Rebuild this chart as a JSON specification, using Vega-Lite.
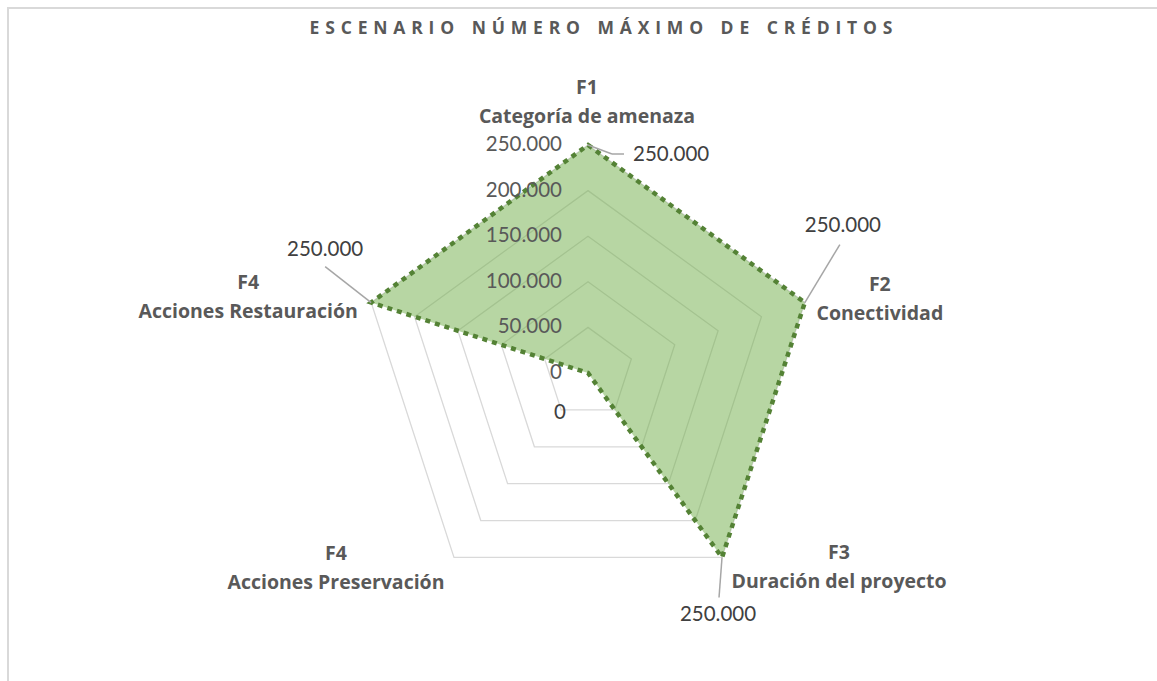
{
  "$schema": "https://vega.github.io/schema/vega-lite/v6.json",
  "width": 1151,
  "height": 675,
  "autosize": {"type": "none"},
  "padding": {"left": 8, "top": 8, "right": -2, "bottom": -2},
  "background": "white",
  "title": {
    "text": "E\u2004S\u2004C\u2004E\u2004N\u2004A\u2004R\u2004I\u2004O\u2004\u2004\u2004N\u2004Ú\u2004M\u2004E\u2004R\u2004O\u2004\u2004\u2004M\u2004Á\u2004X\u2004I\u2004M\u2004O\u2004\u2004\u2004D\u2004E\u2004\u2004\u2004C\u2004R\u2004É\u2004D\u2004I\u2004T\u2004O\u2004S",
    "font": "Open Sans",
    "fontSize": 17.5,
    "fontWeight": "bold",
    "color": "#595959",
    "anchor": "middle",
    "frame": "group",
    "baseline": "alphabetic",
    "offset": -43,
    "dx": 17.5
  },
  "config": {
    "view": {"stroke": "#d9d9d9", "strokeWidth": 2},
    "font": "Lato",
    "locale": {"number": {"decimal": ",", "thousands": ".", "grouping": [3], "currency": ["", " €"]}}
  },
  "datasets": {
    "factors": [
      {"idx": 0, "code": "F1", "name": "Categoría de amenaza", "value": 250000},
      {"idx": 1, "code": "F2", "name": "Conectividad", "value": 250000},
      {"idx": 2, "code": "F3", "name": "Duración del proyecto", "value": 250000},
      {"idx": 3, "code": "F4", "name": "Acciones Preservación", "value": 0},
      {"idx": 4, "code": "F4", "name": "Acciones Restauración", "value": 250000}
    ],
    "rings": [
      {"level": 0, "vertex": [0, 1, 2, 3, 4]},
      {"level": 50000, "vertex": [0, 1, 2, 3, 4]},
      {"level": 100000, "vertex": [0, 1, 2, 3, 4]},
      {"level": 150000, "vertex": [0, 1, 2, 3, 4]},
      {"level": 200000, "vertex": [0, 1, 2, 3, 4]},
      {"level": 250000, "vertex": [0, 1, 2, 3, 4]}
    ]
  },
  "layer": [
    {
      "data": {"name": "rings"},
      "transform": [
        {"flatten": ["vertex"]},
        {"filter": "datum.level > 0"},
        {"calculate": "datum.level*sin(2*PI*datum.vertex/5)", "as": "gx"},
        {"calculate": "datum.level*cos(2*PI*datum.vertex/5)", "as": "gy"}
      ],
      "mark": {"type": "line", "interpolate": "linear-closed", "stroke": "#d9d9d9", "strokeWidth": 1.3},
      "encoding": {
        "x": {"field": "gx", "type": "quantitative", "scale": {"domain": [-635965, 626096], "nice": false, "zero": false}, "axis": null},
        "y": {"field": "gy", "type": "quantitative", "scale": {"domain": [-339912, 400219], "nice": false, "zero": false}, "axis": null},
        "detail": {"field": "level", "type": "nominal"},
        "order": {"field": "vertex", "type": "quantitative"}
      }
    },
    {
      "data": {"name": "factors"},
      "transform": [
        {"calculate": "datum.value*sin(2*PI*datum.idx/5)", "as": "px"},
        {"calculate": "datum.value*cos(2*PI*datum.idx/5)", "as": "py"}
      ],
      "mark": {"type": "line", "interpolate": "linear-closed", "fill": "#70ad47", "fillOpacity": 0.5, "stroke": "#548235", "strokeWidth": 4.5, "strokeDash": [5, 5]},
      "encoding": {
        "x": {"field": "px", "type": "quantitative", "scale": {"domain": [-635965, 626096], "nice": false, "zero": false}, "axis": null},
        "y": {"field": "py", "type": "quantitative", "scale": {"domain": [-339912, 400219], "nice": false, "zero": false}, "axis": null},
        "order": {"field": "idx", "type": "quantitative"}
      }
    },
    {
      "data": {"name": "rings"},
      "mark": {"type": "text", "align": "right", "baseline": "middle", "dx": -26, "fontSize": 20.5, "color": "#595959"},
      "encoding": {
        "x": {"datum": 0, "type": "quantitative", "scale": {"domain": [-635965, 626096], "nice": false, "zero": false}, "axis": null},
        "y": {"field": "level", "type": "quantitative", "scale": {"domain": [-339912, 400219], "nice": false, "zero": false}, "axis": null},
        "text": {"field": "level", "type": "quantitative", "format": ",.0f"}
      }
    },
    {
      "data": {"name": "factors"},
      "transform": [
        {"calculate": "datum.value*sin(2*PI*datum.idx/5)", "as": "px"},
        {"calculate": "datum.value*cos(2*PI*datum.idx/5)", "as": "py"},
        {"calculate": "250000*sin(2*PI*datum.idx/5)", "as": "ox"},
        {"calculate": "250000*cos(2*PI*datum.idx/5)", "as": "oy"},
        {"calculate": "datum.code + '\\n' + datum.name", "as": "lab"}
      ],
      "layer": [
        {
          "transform": [
            {"filter": "datum.idx != 3"},
            {"calculate": "datum.px + [24, 35, -3, 0, -46][datum.idx]*1096.49", "as": "lx"},
            {"calculate": "datum.py + [-9, 58, -40, 0, 36][datum.idx]*1096.49", "as": "ly"}
          ],
          "mark": {"type": "rule", "stroke": "#a6a6a6", "strokeWidth": 1.5},
          "encoding": {
            "x": {"field": "px", "type": "quantitative", "scale": {"domain": [-635965, 626096], "nice": false, "zero": false}, "axis": null},
            "y": {"field": "py", "type": "quantitative", "scale": {"domain": [-339912, 400219], "nice": false, "zero": false}, "axis": null},
            "x2": {"field": "lx"},
            "y2": {"field": "ly"}
          }
        },
        {
          "transform": [
            {"filter": "datum.idx == 0"},
            {"calculate": "datum.px + 24*1096.49", "as": "sx"},
            {"calculate": "datum.px + 36*1096.49", "as": "lx"},
            {"calculate": "datum.py - 9*1096.49", "as": "ly"}
          ],
          "mark": {"type": "rule", "stroke": "#a6a6a6", "strokeWidth": 1.5},
          "encoding": {
            "x": {"field": "sx", "type": "quantitative", "scale": {"domain": [-635965, 626096], "nice": false, "zero": false}, "axis": null},
            "y": {"field": "ly", "type": "quantitative", "scale": {"domain": [-339912, 400219], "nice": false, "zero": false}, "axis": null},
            "x2": {"field": "lx"}
          }
        },
        {
          "transform": [{"filter": "datum.idx == 0"}],
          "mark": {"type": "text", "align": "left", "baseline": "middle", "dx": 45, "dy": 10, "fontSize": 20.5, "color": "#404040"},
          "encoding": {
            "x": {"field": "px", "type": "quantitative", "scale": {"domain": [-635965, 626096], "nice": false, "zero": false}, "axis": null},
            "y": {"field": "py", "type": "quantitative", "scale": {"domain": [-339912, 400219], "nice": false, "zero": false}, "axis": null},
            "text": {"field": "value", "type": "quantitative", "format": ",.0f"}
          }
        },
        {
          "transform": [{"filter": "datum.idx == 1"}],
          "mark": {"type": "text", "align": "center", "baseline": "middle", "dx": 38, "dy": -77, "fontSize": 20.5, "color": "#404040"},
          "encoding": {
            "x": {"field": "px", "type": "quantitative", "scale": {"domain": [-635965, 626096], "nice": false, "zero": false}, "axis": null},
            "y": {"field": "py", "type": "quantitative", "scale": {"domain": [-339912, 400219], "nice": false, "zero": false}, "axis": null},
            "text": {"field": "value", "type": "quantitative", "format": ",.0f"}
          }
        },
        {
          "transform": [{"filter": "datum.idx == 2"}],
          "mark": {"type": "text", "align": "center", "baseline": "middle", "dx": -4, "dy": 58, "fontSize": 20.5, "color": "#404040"},
          "encoding": {
            "x": {"field": "px", "type": "quantitative", "scale": {"domain": [-635965, 626096], "nice": false, "zero": false}, "axis": null},
            "y": {"field": "py", "type": "quantitative", "scale": {"domain": [-339912, 400219], "nice": false, "zero": false}, "axis": null},
            "text": {"field": "value", "type": "quantitative", "format": ",.0f"}
          }
        },
        {
          "transform": [{"filter": "datum.idx == 3"}],
          "mark": {"type": "text", "align": "center", "baseline": "middle", "dx": -28, "dy": 40, "fontSize": 20.5, "color": "#404040"},
          "encoding": {
            "x": {"field": "px", "type": "quantitative", "scale": {"domain": [-635965, 626096], "nice": false, "zero": false}, "axis": null},
            "y": {"field": "py", "type": "quantitative", "scale": {"domain": [-339912, 400219], "nice": false, "zero": false}, "axis": null},
            "text": {"field": "value", "type": "quantitative", "format": ",.0f"}
          }
        },
        {
          "transform": [{"filter": "datum.idx == 4"}],
          "mark": {"type": "text", "align": "center", "baseline": "middle", "dx": -46, "dy": -53, "fontSize": 20.5, "color": "#404040"},
          "encoding": {
            "x": {"field": "px", "type": "quantitative", "scale": {"domain": [-635965, 626096], "nice": false, "zero": false}, "axis": null},
            "y": {"field": "py", "type": "quantitative", "scale": {"domain": [-339912, 400219], "nice": false, "zero": false}, "axis": null},
            "text": {"field": "value", "type": "quantitative", "format": ",.0f"}
          }
        },
        {
          "transform": [{"filter": "datum.idx == 0"}],
          "mark": {"type": "text", "align": "center", "baseline": "middle", "lineBreak": "\n", "lineHeight": 29, "dx": -1, "dy": -56.5, "font": "Open Sans", "fontSize": 19.5, "fontWeight": "bold", "color": "#595959"},
          "encoding": {
            "x": {"field": "ox", "type": "quantitative", "scale": {"domain": [-635965, 626096], "nice": false, "zero": false}, "axis": null},
            "y": {"field": "oy", "type": "quantitative", "scale": {"domain": [-339912, 400219], "nice": false, "zero": false}, "axis": null},
            "text": {"field": "lab", "type": "nominal"}
          }
        },
        {
          "transform": [{"filter": "datum.idx == 1"}],
          "mark": {"type": "text", "align": "center", "baseline": "middle", "lineBreak": "\n", "lineHeight": 29, "dx": 75, "dy": -17.5, "font": "Open Sans", "fontSize": 19.5, "fontWeight": "bold", "color": "#595959"},
          "encoding": {
            "x": {"field": "ox", "type": "quantitative", "scale": {"domain": [-635965, 626096], "nice": false, "zero": false}, "axis": null},
            "y": {"field": "oy", "type": "quantitative", "scale": {"domain": [-339912, 400219], "nice": false, "zero": false}, "axis": null},
            "text": {"field": "lab", "type": "nominal"}
          }
        },
        {
          "transform": [{"filter": "datum.idx == 2"}],
          "mark": {"type": "text", "align": "center", "baseline": "middle", "lineBreak": "\n", "lineHeight": 29, "dx": 117, "dy": -4.5, "font": "Open Sans", "fontSize": 19.5, "fontWeight": "bold", "color": "#595959"},
          "encoding": {
            "x": {"field": "ox", "type": "quantitative", "scale": {"domain": [-635965, 626096], "nice": false, "zero": false}, "axis": null},
            "y": {"field": "oy", "type": "quantitative", "scale": {"domain": [-339912, 400219], "nice": false, "zero": false}, "axis": null},
            "text": {"field": "lab", "type": "nominal"}
          }
        },
        {
          "transform": [{"filter": "datum.idx == 3"}],
          "mark": {"type": "text", "align": "center", "baseline": "middle", "lineBreak": "\n", "lineHeight": 29, "dx": -118, "dy": -3.5, "font": "Open Sans", "fontSize": 19.5, "fontWeight": "bold", "color": "#595959"},
          "encoding": {
            "x": {"field": "ox", "type": "quantitative", "scale": {"domain": [-635965, 626096], "nice": false, "zero": false}, "axis": null},
            "y": {"field": "oy", "type": "quantitative", "scale": {"domain": [-339912, 400219], "nice": false, "zero": false}, "axis": null},
            "text": {"field": "lab", "type": "nominal"}
          }
        },
        {
          "transform": [{"filter": "datum.idx == 4"}],
          "mark": {"type": "text", "align": "center", "baseline": "middle", "lineBreak": "\n", "lineHeight": 29, "dx": -123, "dy": -19.5, "font": "Open Sans", "fontSize": 19.5, "fontWeight": "bold", "color": "#595959"},
          "encoding": {
            "x": {"field": "ox", "type": "quantitative", "scale": {"domain": [-635965, 626096], "nice": false, "zero": false}, "axis": null},
            "y": {"field": "oy", "type": "quantitative", "scale": {"domain": [-339912, 400219], "nice": false, "zero": false}, "axis": null},
            "text": {"field": "lab", "type": "nominal"}
          }
        }
      ]
    }
  ]
}
